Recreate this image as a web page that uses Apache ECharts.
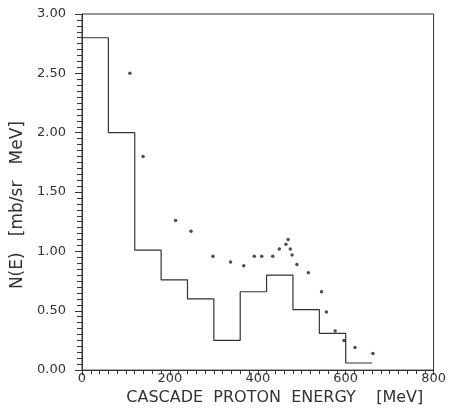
<!DOCTYPE html>
<html><head><meta charset="utf-8">
<script src="https://cdn.jsdelivr.net/npm/echarts@6/dist/echarts.min.js"></script>
<style>html,body{margin:0;padding:0;background:#fff}#c{width:449px;height:411px}</style>
</head><body><div id="c"></div>
<script>
// Histogram (cascade calculation): bin edges and values
const binEdges = [0, 60, 120, 180, 240, 300, 360, 420, 480, 540, 600, 660];
const binValues = [2.80, 2.00, 1.01, 0.76, 0.60, 0.25, 0.66, 0.80, 0.51, 0.31, 0.06];
// Measured points
const pointE = [109, 139, 213, 248, 298, 338, 368, 392, 409, 434, 449, 464, 469, 474, 478, 489, 515, 545, 556, 576, 596, 621, 662];
const pointV = [2.50, 1.80, 1.26, 1.17, 0.96, 0.91, 0.88, 0.96, 0.96, 0.96, 1.02, 1.06, 1.10, 1.02, 0.97, 0.89, 0.82, 0.66, 0.49, 0.33, 0.25, 0.19, 0.14];
const xTicks = [0, 200, 400, 600, 800];
const yTicks = [0, 0.5, 1.0, 1.5, 2.0, 2.5, 3.0];

const histData = binEdges.map((e, i) => [e, i < binValues.length ? binValues[i] : binValues[binValues.length - 1]]);
const pointData = pointE.map((e, i) => [e, pointV[i]]);

const ink = '#333';
const chart = echarts.init(document.getElementById('c'), null, {renderer: 'canvas'});
chart.setOption({
  animation: false,
  backgroundColor: '#fff',
  grid: {left: 82, right: 12, top: 14, bottom: 39, show: true, borderColor: ink, borderWidth: 1, backgroundColor: 'transparent'},
  xAxis: {
    type: 'value', min: xTicks[0], max: xTicks[xTicks.length - 1], interval: 200,
    name: 'CASCADE  PROTON  ENERGY    [MeV]', nameLocation: 'middle', nameGap: 19,
    nameTextStyle: {fontFamily: 'DejaVu Sans', fontSize: 16, color: ink, padding: [0, 0, 0, 34]},
    axisLine: {show: true, lineStyle: {color: ink, width: 1}},
    axisTick: {show: true, length: 5, lineStyle: {color: ink, width: 1}},
    minorTick: {show: true, splitNumber: 10, length: 4, lineStyle: {color: ink, width: 1}},
    splitLine: {show: false},
    axisLabel: {fontFamily: 'DejaVu Sans', fontSize: 13, color: ink, margin: 2}
  },
  yAxis: {
    type: 'value', min: yTicks[0], max: yTicks[yTicks.length - 1], interval: 0.5,
    name: 'N(E)   [mb/sr   MeV]', nameLocation: 'middle', nameGap: 45,
    nameTextStyle: {fontFamily: 'DejaVu Sans', fontSize: 17, color: ink, padding: [0, 26, 0, 0]},
    axisLine: {show: true, lineStyle: {color: ink, width: 1}},
    axisTick: {show: true, length: 7, lineStyle: {color: ink, width: 1}},
    minorTick: {show: true, splitNumber: 10, length: 5, lineStyle: {color: ink, width: 1}},
    splitLine: {show: false},
    axisLabel: {fontFamily: 'DejaVu Sans', fontSize: 13, color: ink, margin: 16, formatter: v => v.toFixed(2)}
  },
  series: [
    {type: 'line', step: 'end', data: histData, symbol: 'none', lineStyle: {color: ink, width: 1.2}, z: 3},
    {type: 'scatter', data: pointData, symbol: 'circle', symbolSize: 3.5, itemStyle: {color: '#222'}, z: 4}
  ]
});
</script></body></html>
